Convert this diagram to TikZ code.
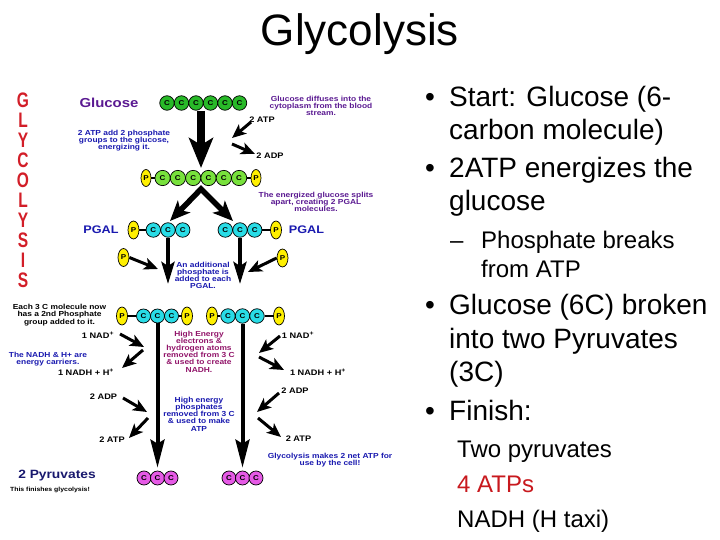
\documentclass[tikz,border=0pt]{standalone}
\usepackage{fontspec}
\setmainfont{Liberation Sans}
\newfontfamily\pix[FakeStretch=1.15]{Liberation Sans}
\newfontfamily\narr[FakeStretch=0.74]{Liberation Sans}
\usetikzlibrary{arrows.meta,shapes.geometric}
\definecolor{glu}{RGB}{40,185,40}
\definecolor{eglu}{RGB}{120,225,60}
\definecolor{cyn}{RGB}{40,220,230}
\definecolor{pnk}{RGB}{230,90,230}
\definecolor{yel}{RGB}{255,240,0}
\definecolor{glred}{RGB}{210,30,40}
\definecolor{dpurple}{RGB}{90,25,145}
\definecolor{dblue}{RGB}{25,25,175}
\definecolor{dmag}{RGB}{145,20,105}
\definecolor{navy}{RGB}{25,25,110}
\definecolor{slred}{RGB}{200,25,30}
\begin{document}
\begin{tikzpicture}[x=1pt,y=-1pt,
 circ/.style={circle, draw=black, line width=0.7pt, minimum size=14.5pt, inner sep=0pt, font=\pix\bfseries\fontsize{7}{7}\selectfont},
 gc/.style={circ, fill=glu},
 ec/.style={circ, fill=eglu, minimum size=15.3pt},
 cc/.style={circ, fill=cyn},
 pc/.style={circ, fill=pnk, minimum size=14pt},
 ph/.style={ellipse, draw=black, line width=0.7pt, fill=yel, minimum width=11pt, minimum height=18pt, inner sep=0pt, font=\pix\bfseries\fontsize{7}{7}\selectfont},
 bond/.style={line width=1.2pt},
 txt/.style={font=\pix\bfseries\fontsize{7.3}{7.2}\selectfont, align=center, inner sep=0pt},
 lab/.style={font=\pix\bfseries\fontsize{8}{8}\selectfont, inner sep=0pt},
 gl/.style={font=\narr\bfseries\fontsize{21}{21}\selectfont, text=glred, inner sep=0pt},
 sb/.style={anchor=base west, inner sep=0pt, font=\fontsize{28}{28}\selectfont},
 ssb/.style={anchor=base west, inner sep=0pt, font=\fontsize{24}{24}\selectfont},
 bigarr/.style={line width=8pt, -{Stealth[length=30pt,width=24pt,inset=7pt]}},
 midarr/.style={line width=5.5pt, line join=miter, {Stealth[length=20pt,width=17pt,inset=5pt]}-{Stealth[length=20pt,width=17pt,inset=5pt]}},
 vertarr/.style={line width=4pt, -{Stealth[length=22pt,width=13pt,inset=4pt]}},
 longarr/.style={line width=4pt, -{Stealth[length=28pt,width=14pt,inset=4pt]}, shorten >=3pt},
 smallarr/.style={line width=3pt, -{Stealth[length=14pt,width=12pt,inset=3.5pt]}}
]
\useasboundingbox (0,0) rectangle (720,540);

% ---------- slide text ----------
\node[anchor=base, inner sep=0pt, font=\fontsize{44}{44}\selectfont] (title) at (360,46) {Glycolysis};

\node[sb] (bu1) at (425,107) {•};
\node[sb] (b1a) at (449,107) {Start: Glucose (6-};
\node[sb] (b1b) at (449,140) {carbon molecule)};
\node[sb] (bu2) at (425,178) {•};
\node[sb] (b2a) at (449,178) {2ATP energizes the};
\node[sb] (b2b) at (449,211) {glucose};
\node[ssb] (dash1) at (450,248) {–};
\node[ssb] (s1a) at (481,248) {Phosphate breaks};
\node[ssb] (s1b) at (481,277) {from ATP};
\node[sb] (bu3) at (425,314) {•};
\node[sb] (b3a) at (449,314) {Glucose (6C) broken};
\node[sb] (b3b) at (449,348) {into two Pyruvates};
\node[sb] (b3c) at (449,381) {(3C)};
\node[sb] (bu4) at (425,420) {•};
\node[sb] (b4) at (449,420) {Finish:};
\node[ssb] (f1) at (457,457) {Two pyruvates};
\node[ssb, text=slred] (f2) at (457,492) {4 ATPs};
\node[ssb] (f3) at (457,527) {NADH (H taxi)};

% ---------- GLYCOLYSIS column ----------
\foreach \l [count=\i from 0] in {G,L,Y,C,O,L,Y,S,I,S}
  \node[gl] (gl\i) at (23,{100.5+20*\i}) {\l};

% ---------- glucose ----------
\node[font=\pix\bfseries\fontsize{13}{13}\selectfont, text=dpurple, inner sep=0pt] (glucose) at (109,103) {Glucose};
\foreach \i/\x in {1/167,2/181.5,3/196,4/210.5,5/225,6/239.5}
  \node[gc] (g\i) at (\x,103) {C};
\node[txt, text=dpurple] (tdiff) at (321,106) {Glucose diffuses into the\\cytoplasm from the blood\\stream.};

\coordinate (a1s) at (201,111);
\coordinate (a1e) at (201,168);
\draw[bigarr] (a1s) -- (a1e);

\node[lab] (atpT) at (262,120) {2 ATP};
\coordinate (atpTs) at (251,122);
\coordinate (atpTe) at (232,138);
\draw[smallarr] (atpTs) -- (atpTe);
\node[lab] (adpT) at (270,156) {2 ADP};
\coordinate (adpTs) at (232,144);
\coordinate (adpTe) at (255,154);
\draw[smallarr] (adpTs) -- (adpTe);

\node[txt, text=dblue] (tatp) at (124,140.5) {2 ATP add 2 phosphate\\groups to the glucose,\\energizing it.};

% ---------- energized glucose ----------
\node[ph, minimum width=10pt, minimum height=17pt] (ep1) at (146,178) {P};
\foreach \i/\x in {1/162.6,2/177.9,3/193.2,4/208.5,5/223.8,6/239.1}
  \node[ec] (e\i) at (\x,178) {C};
\node[ph, minimum width=10pt, minimum height=17pt] (ep2) at (256,178) {P};
\draw[bond] (ep1) -- (e1);
\draw[bond] (e6) -- (ep2);
\node[txt, text=dpurple] (tsplit) at (316,202) {The energized glucose splits\\apart, creating 2 PGAL\\molecules.};

\coordinate (apex) at (201,189);
\coordinate (spL) at (170,221);
\coordinate (spR) at (233,221);
\draw[midarr] (spL) -- (apex) -- (spR);

% ---------- PGAL ----------
\node[font=\pix\bfseries\fontsize{11}{11}\selectfont, text=dblue, inner sep=0pt] (pgalL) at (101,230) {PGAL};
\node[ph] (lp) at (133.5,230) {P};
\foreach \i/\x in {1/153.3,2/168,3/182.7}
  \node[cc] (l\i) at (\x,230) {C};
\draw[bond] (lp) -- (l1);
\foreach \i/\x in {1/225.3,2/240,3/254.7}
  \node[cc] (r\i) at (\x,230) {C};
\node[ph] (rp) at (276,230) {P};
\draw[bond] (r3) -- (rp);
\node[font=\pix\bfseries\fontsize{11}{11}\selectfont, text=dblue, inner sep=0pt] (pgalR) at (306.5,230) {PGAL};

\coordinate (vL) at (168,284);
\coordinate (vR) at (240,284);
\draw[vertarr] (l2.south) -- (vL);
\draw[vertarr] (r2.south) -- (vR);

\node[ph] (fpL) at (123.5,257.5) {P};
\node[ph] (fpR) at (282.5,258) {P};
\coordinate (fpLe) at (158,269);
\coordinate (fpRe) at (248,272);
\draw[smallarr] (fpL.east) -- (fpLe);
\draw[smallarr] (fpR.west) -- (fpRe);

\node[txt, text=dblue] (taddp) at (203,275.5) {An additional\\phosphate is\\added to each\\PGAL.};

% ---------- two phosphates ----------
\node[txt] (teach) at (59.5,315) {Each 3 C molecule now\\has a 2nd Phosphate\\group added to it.};
\node[ph] (qlp1) at (122,316) {P};
\foreach \i/\x in {1/143.5,2/157.5,3/171.5}
  \node[cc, minimum size=14pt] (ql\i) at (\x,316) {C};
\node[ph] (qlp2) at (187,316) {P};
\draw[bond] (qlp1) -- (ql1);
\draw[bond] (ql3) -- (qlp2);
\node[ph] (qrp1) at (212,316) {P};
\foreach \i/\x in {1/228,2/242.5,3/257}
  \node[cc] (qr\i) at (\x,316) {C};
\node[ph] (qrp2) at (279,316) {P};
\draw[bond] (qrp1) -- (qr1);
\draw[bond] (qr3) -- (qrp2);

% ---------- pyruvates ----------
\foreach \i/\x in {1/144,2/157.5,3/171}
  \node[pc] (yl\i) at (\x,478) {C};
\foreach \i/\x in {1/229,2/242.5,3/256}
  \node[pc] (yr\i) at (\x,478) {C};
\draw[longarr] (ql2.south) -- (yl2.north);
\draw[longarr] (qr2.south) -- (yr2.north);

\node[txt, text=dmag] (thigh) at (199,351.5) {High Energy\\electrons \&\\hydrogen atoms\\removed from 3 C\\\& used to create\\NADH.};
\node[txt, text=dblue] (thep) at (199,414) {High energy\\phosphates\\removed from 3 C\\\& used to make\\ATP};

% ---------- left side NAD / ATP ----------
\node[lab] (nadL) at (98,335) {1 NAD\textsuperscript{+}};
\coordinate (nL1s) at (120,334);
\coordinate (nL1e) at (144,347);
\draw[smallarr] (nL1s) -- (nL1e);
\coordinate (nL2s) at (143,350);
\coordinate (nL2e) at (122,368);
\draw[smallarr] (nL2s) -- (nL2e);
\node[lab] (nadhL) at (86,372) {1 NADH + H\textsuperscript{+}};
\node[txt, text=dblue] (tcarry) at (48,359) {The NADH \& H+ are\\energy carriers.};

\node[lab] (adpL) at (103.5,397) {2 ADP};
\coordinate (aL1s) at (123,398);
\coordinate (aL1e) at (147,412);
\draw[smallarr] (aL1s) -- (aL1e);
\coordinate (aL2s) at (148,418);
\coordinate (aL2e) at (129,438);
\draw[smallarr] (aL2s) -- (aL2e);
\node[lab] (atpL) at (112,440) {2 ATP};

% ---------- right side NAD / ATP ----------
\node[lab] (nadR) at (298,335) {1 NAD\textsuperscript{+}};
\coordinate (nR1s) at (280,336);
\coordinate (nR1e) at (259,353);
\draw[smallarr] (nR1s) -- (nR1e);
\coordinate (nR2s) at (259,357);
\coordinate (nR2e) at (284,370);
\draw[smallarr] (nR2s) -- (nR2e);
\node[lab] (nadhR) at (318,372) {1 NADH + H\textsuperscript{+}};

\node[lab] (adpR) at (295,391) {2 ADP};
\coordinate (aR1s) at (279,393);
\coordinate (aR1e) at (257,412);
\draw[smallarr] (aR1s) -- (aR1e);
\coordinate (aR2s) at (258,418);
\coordinate (aR2e) at (281,437);
\draw[smallarr] (aR2s) -- (aR2e);
\node[lab] (atpR) at (298.5,439) {2 ATP};
\node[txt, text=dblue] (tnet) at (330,460) {Glycolysis makes 2 net ATP for\\use by the cell!};

% ---------- bottom ----------
\node[font=\pix\bfseries\fontsize{12}{12}\selectfont, text=navy, inner sep=0pt] (pyr) at (57,476) {2 Pyruvates};
\node[font=\pix\bfseries\fontsize{6}{6}\selectfont, inner sep=0pt] (fin) at (50,490) {This finishes glycolysis!};
\end{tikzpicture}
\end{document}
